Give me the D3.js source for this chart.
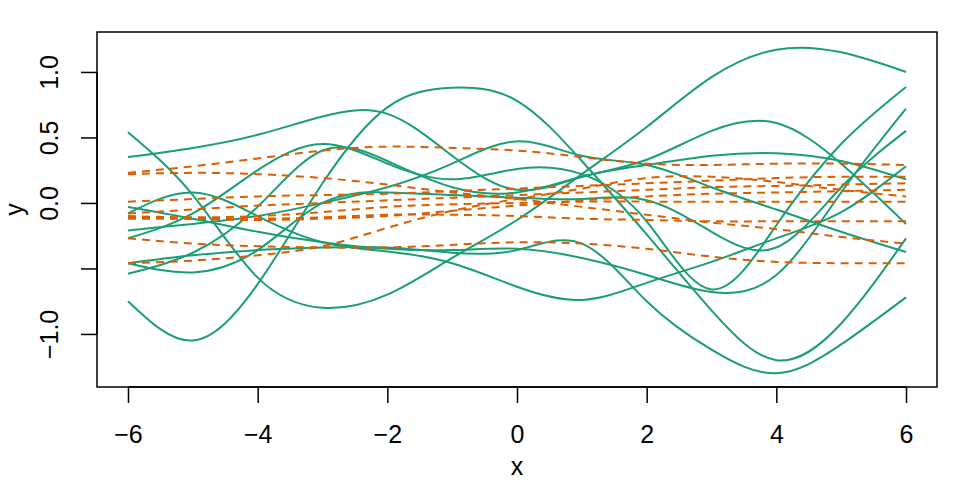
<!DOCTYPE html>
<html lang="en">
<head>
<meta charset="UTF-8">
<title>curves</title>
<style>
  body { margin: 0; background: #fff; }
  text { font-family: "Liberation Sans", Arial, sans-serif; }
</style>
</head>
<body>
<script src="https://cdnjs.cloudflare.com/ajax/libs/d3/7.8.5/d3.min.js"></script>
<script>
// sample positions along x
var xs = [-6, -5, -4, -3, -2, -1, 0, 1, 2, 3, 4, 5, 6];

// solid green curves at each x
var greenCurves = [
  [0.54, 0.06, -0.57, -0.80, -0.70, -0.42, -0.13, 0.22, 0.58, 0.96, 1.17, 1.15, 1.00],
  [-0.75, -1.05, -0.62, 0.15, 0.73, 0.88, 0.78, 0.32, -0.24, -0.82, -1.20, -0.92, -0.27],
  [-0.03, -0.12, -0.22, -0.30, -0.35, -0.36, -0.35, -0.42, -0.55, -0.68, -0.55, 0.08, 0.72],
  [-0.08, 0.08, -0.10, -0.30, -0.37, -0.46, -0.64, -0.74, -0.61, -0.45, -0.27, -0.07, 0.28],
  [-0.21, -0.16, -0.10, 0.00, 0.12, 0.30, 0.47, 0.36, 0.29, 0.12, -0.05, -0.22, -0.375],
  [-0.27, -0.08, 0.25, 0.45, 0.30, 0.18, 0.26, 0.22, -0.14, -0.66, -0.17, 0.45, 0.885],
  [0.35, 0.42, 0.52, 0.66, 0.68, 0.36, 0.10, 0.20, 0.29, 0.36, 0.38, 0.32, 0.18],
  [-0.46, -0.40, -0.36, -0.34, -0.34, -0.38, -0.36, -0.31, -0.75, -1.12, -1.30, -1.08, -0.72],
  [-0.46, -0.53, -0.36, 0.00, 0.08, 0.06, 0.04, 0.03, 0.02, -0.22, -0.34, 0.12, 0.55],
  [-0.54, -0.38, -0.03, 0.40, 0.32, 0.12, 0.08, 0.20, 0.33, 0.55, 0.61, 0.30, -0.16]
];

// dashed orange curves
var orangeCurves = [
  [0.23, 0.28, 0.34, 0.40, 0.43, 0.42, 0.40, 0.35, 0.30, 0.29, 0.30, 0.30, 0.29],
  [0.22, 0.23, 0.22, 0.19, 0.14, 0.08, 0.03, -0.03, -0.09, -0.15, -0.20, -0.26, -0.31],
  [0.01, 0.03, 0.05, 0.06, 0.07, 0.09, 0.11, 0.13, 0.15, 0.17, 0.19, 0.20, 0.20],
  [-0.08, -0.05, -0.02, 0.00, 0.02, 0.04, 0.06, 0.08, 0.10, 0.12, 0.13, 0.14, 0.15],
  [-0.10, -0.11, -0.10, -0.07, -0.03, -0.01, 0.00, 0.01, 0.01, 0.01, 0.01, 0.01, 0.01],
  [-0.12, -0.12, -0.12, -0.11, -0.09, -0.09, -0.10, -0.12, -0.13, -0.14, -0.14, -0.14, -0.14],
  [-0.11, -0.12, -0.13, -0.12, -0.10, -0.06, -0.02, 0.02, 0.05, 0.07, 0.08, 0.09, 0.10],
  [-0.27, -0.31, -0.33, -0.34, -0.34, -0.32, -0.30, -0.31, -0.35, -0.41, -0.45, -0.46, -0.46],
  [-0.46, -0.44, -0.40, -0.33, -0.19, -0.06, 0.03, 0.11, 0.19, 0.20, 0.16, 0.10, 0.05]
];

var xTicks = [-6, -4, -2, 0, 2, 4, 6];
var yTicks = [-1, -0.5, 0, 0.5, 1];
var yTickLabels = ["\u22121.0", "", "0.0", "0.5", "1.0"];

var W = 970, H = 485;
var plotL = 97, plotR = 937, plotT = 32, plotB = 387;

var svg = d3.select("body").append("svg")
    .attr("width", W)
    .attr("height", H);

var x = d3.scaleLinear().domain([-6.478, 6.478]).range([plotL, plotR]);
var y = d3.scaleLinear().domain([-1.405, 1.305]).range([plotB, plotT]);

var line = d3.line()
    .x(function(d, i) { return x(xs[i]); })
    .y(function(d) { return y(d); })
    .curve(d3.curveNatural);

svg.append("g").selectAll("path")
    .data(greenCurves)
    .enter().append("path")
    .attr("d", line)
    .attr("fill", "none")
    .attr("stroke", "#1B9E77")
    .attr("stroke-width", 2);

svg.append("g").selectAll("path")
    .data(orangeCurves)
    .enter().append("path")
    .attr("d", line)
    .attr("fill", "none")
    .attr("stroke", "#D95F02")
    .attr("stroke-width", 2)
    .attr("stroke-dasharray", "8,6");

// box
svg.append("rect")
    .attr("x", plotL).attr("y", plotT)
    .attr("width", plotR - plotL).attr("height", plotB - plotT)
    .attr("fill", "none").attr("stroke", "#000").attr("stroke-width", 1.5);

// x axis
var xAxis = d3.axisBottom(x).tickValues(xTicks).tickSize(16).tickPadding(22)
    .tickFormat(function(d) { return d < 0 ? "\u2212" + Math.abs(d) : d; });
var gx = svg.append("g").attr("transform", "translate(0," + plotB + ")").call(xAxis);
gx.select(".domain").attr("d", "M" + x(-6) + ",0H" + x(6)).attr("stroke-width", 1.5);
gx.selectAll(".tick line").attr("stroke-width", 1.5);
gx.selectAll(".tick text").attr("font-size", 25).attr("fill", "#000")
    .attr("font-family", "Liberation Sans, Arial, sans-serif");

// y axis
var yAxis = d3.axisLeft(y).tickValues(yTicks).tickSize(16)
    .tickFormat(function(d, i) { return yTickLabels[i]; });
var gy = svg.append("g").attr("transform", "translate(" + plotL + ",0)").call(yAxis);
gy.select(".domain").attr("d", "M0," + y(-1) + "V" + y(1)).attr("stroke-width", 1.5);
gy.selectAll(".tick line").attr("stroke-width", 1.5);
gy.selectAll(".tick text")
    .attr("font-size", 25).attr("fill", "#000")
    .attr("font-family", "Liberation Sans, Arial, sans-serif")
    .attr("x", null).attr("dy", null)
    .attr("text-anchor", "middle")
    .attr("transform", "translate(-39,0) rotate(-90)");

// axis titles
svg.append("text")
    .attr("x", (plotL + plotR) / 2).attr("y", 475)
    .attr("text-anchor", "middle").attr("font-size", 25)
    .text("x");
svg.append("text")
    .attr("transform", "translate(23," + ((plotT + plotB) / 2) + ") rotate(-90)")
    .attr("text-anchor", "middle").attr("font-size", 25)
    .text("y");
</script>
</body>
</html>
